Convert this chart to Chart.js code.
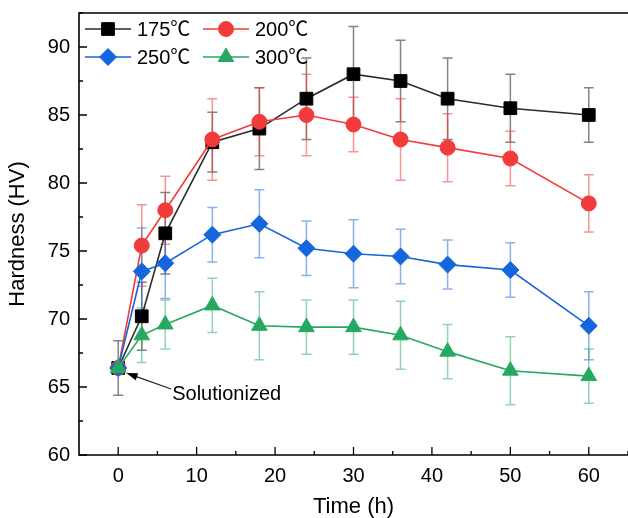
<!DOCTYPE html>
<html>
<head>
<meta charset="utf-8">
<script src="https://cdn.jsdelivr.net/npm/chart.js@4.4.1/dist/chart.umd.min.js"></script>
<style>
html, body { margin: 0; padding: 0; background: #fff; }
#wrap { width: 628px; height: 518px; }
</style>
</head>
<body>
<div id="wrap"><canvas id="c" width="628" height="518"></canvas></div>
<script>
// aging time (h) and hardness (HV) for each temperature
var times = [0, 3, 6, 12, 18, 24, 30, 36, 42, 50, 60];
var hv175 = [66.4, 70.2, 76.3, 83.0, 84.0, 86.2, 88.0, 87.5, 86.2, 85.5, 85.0];
var err175 = [2.0, 2.5, 3.0, 2.2, 3.0, 3.0, 3.5, 3.0, 3.0, 2.5, 2.0];
var hv200 = [66.4, 75.4, 78.0, 83.2, 84.5, 85.0, 84.3, 83.2, 82.6, 81.8, 78.5];
var err200 = [0, 3.0, 2.5, 3.0, 2.5, 3.0, 2.0, 3.0, 2.5, 2.0, 2.1];
var hv250 = [66.4, 73.5, 74.1, 76.2, 77.0, 75.2, 74.8, 74.6, 74.0, 73.6, 69.5];
var err250 = [0, 3.2, 2.6, 2.0, 2.5, 2.0, 2.5, 2.0, 1.8, 2.0, 2.5];
var hv300 = [66.4, 68.8, 69.6, 71.0, 69.5, 69.4, 69.4, 68.8, 67.6, 66.2, 65.8];
var err300 = [0, 2.0, 1.8, 2.0, 2.5, 2.0, 2.0, 2.5, 2.0, 2.5, 2.0];

var seriesNames = ['175\u2103', '200\u2103', '250\u2103', '300\u2103'];
var xTicks = [0, 10, 20, 30, 40, 50, 60];
var xMinor = [5, 15, 25, 35, 45, 55, 65];
var yTicks = [60, 65, 70, 75, 80, 85, 90];
var yMinor = [62.5, 67.5, 72.5, 77.5, 82.5, 87.5, 92.5];

var FONT = '"Liberation Sans", Arial, "Noto Sans CJK SC", sans-serif';
var lineColors = ['#2b2b2b', '#f23b3b', '#1565dc', '#27a862'];
var markColors = ['#000000', '#f23b3b', '#1565dc', '#27a862'];
var errColors = ['rgba(110,110,110,0.85)', 'rgba(242,59,59,0.55)', 'rgba(21,101,220,0.5)', 'rgba(39,168,98,0.5)'];
var styles = ['rect', 'circle', 'rectRot', 'triangle'];
var radii = [9, 7.5, 8.5, 9];
var allVals = [hv175, hv200, hv250, hv300];
var allErrs = [err175, err200, err250, err300];

function pts(vals) {
    return vals.map(function (v, i) { return { x: times[i], y: v }; });
}

function makeSet(i) {
    return {
        label: seriesNames[i],
        data: pts(allVals[i]),
        borderColor: lineColors[i],
        borderWidth: 1.6,
        backgroundColor: markColors[i],
        pointBackgroundColor: markColors[i],
        pointBorderColor: markColors[i],
        pointBorderWidth: 1,
        pointStyle: styles[i],
        pointRadius: radii[i],
        tension: 0,
        order: 3 - i
    };
}

var decor = {
    id: 'decor',
    beforeDatasetsDraw: function (chart) {
        var ctx = chart.ctx, xs = chart.scales.x, ys = chart.scales.y;
        ctx.save();
        ctx.lineWidth = 1.5;
        for (var i = 0; i < allVals.length; i++) {
            ctx.strokeStyle = errColors[i];
            for (var j = 0; j < times.length; j++) {
                var e = allErrs[i][j];
                if (!e) continue;
                var px = xs.getPixelForValue(times[j]);
                var t = ys.getPixelForValue(allVals[i][j] + e);
                var b = ys.getPixelForValue(allVals[i][j] - e);
                ctx.beginPath();
                ctx.moveTo(px, t); ctx.lineTo(px, b);
                ctx.moveTo(px - 5, t); ctx.lineTo(px + 5, t);
                ctx.moveTo(px - 5, b); ctx.lineTo(px + 5, b);
                ctx.stroke();
            }
        }
        ctx.restore();
    },
    afterDraw: function (chart) {
        var ctx = chart.ctx, xs = chart.scales.x, ys = chart.scales.y;
        var a = chart.chartArea;
        ctx.save();
        // frame
        ctx.strokeStyle = '#000';
        ctx.lineWidth = 1.6;
        ctx.beginPath();
        ctx.moveTo(a.right, a.top); ctx.lineTo(a.left, a.top);
        ctx.lineTo(a.left, a.bottom); ctx.lineTo(a.right, a.bottom);
        ctx.stroke();
        // inward ticks
        ctx.lineWidth = 1.3;
        ctx.beginPath();
        xTicks.forEach(function (v) { var p = xs.getPixelForValue(v); ctx.moveTo(p, a.bottom); ctx.lineTo(p, a.bottom - 8); });
        xMinor.forEach(function (v) { var p = xs.getPixelForValue(v); ctx.moveTo(p, a.bottom); ctx.lineTo(p, a.bottom - 4); });
        yTicks.forEach(function (v) { var p = ys.getPixelForValue(v); ctx.moveTo(a.left, p); ctx.lineTo(a.left + 8, p); });
        yMinor.forEach(function (v) { var p = ys.getPixelForValue(v); ctx.moveTo(a.left, p); ctx.lineTo(a.left + 4, p); });
        ctx.stroke();

        // legend
        var cols = [a.left + 6, a.left + 124];
        var rows = [a.top + 16, a.top + 44];
        ctx.font = '20px ' + FONT;
        ctx.textBaseline = 'middle';
        ctx.textAlign = 'left';
        for (var i = 0; i < seriesNames.length; i++) {
            var lx = cols[i % 2], ly = rows[Math.floor(i / 2)];
            ctx.strokeStyle = lineColors[i];
            ctx.lineWidth = 1.6;
            ctx.beginPath();
            ctx.moveTo(lx, ly); ctx.lineTo(lx + 46, ly);
            ctx.stroke();
            ctx.fillStyle = markColors[i];
            ctx.strokeStyle = markColors[i];
            ctx.lineWidth = 1;
            Chart.helpers.drawPoint(ctx, { pointStyle: styles[i], radius: radii[i], rotation: 0, borderWidth: 1 }, lx + 23, ly);
            ctx.fillStyle = '#000';
            ctx.fillText(seriesNames[i], lx + 52, ly + 1);
        }

        // annotation
        var ox = xs.getPixelForValue(0), oy = ys.getPixelForValue(66.4);
        var tipX = ox + 8, tipY = oy + 5, tailX = ox + 53, tailY = oy + 21;
        var ang = Math.atan2(tipY - tailY, tipX - tailX);
        ctx.strokeStyle = '#222';
        ctx.lineWidth = 1.2;
        ctx.beginPath();
        ctx.moveTo(tailX, tailY); ctx.lineTo(tipX + 10 * Math.cos(ang + Math.PI), tipY + 10 * Math.sin(ang + Math.PI));
        ctx.stroke();
        ctx.fillStyle = '#000';
        ctx.beginPath();
        ctx.moveTo(tipX, tipY);
        ctx.lineTo(tipX - 12 * Math.cos(ang - 0.32), tipY - 12 * Math.sin(ang - 0.32));
        ctx.lineTo(tipX - 12 * Math.cos(ang + 0.32), tipY - 12 * Math.sin(ang + 0.32));
        ctx.closePath();
        ctx.fill();
        ctx.font = '20px ' + FONT;
        ctx.textBaseline = 'alphabetic';
        ctx.fillText('Solutionized', ox + 54, oy + 32);
        ctx.restore();
    }
};

new Chart(document.getElementById('c'), {
    type: 'line',
    data: { datasets: [makeSet(0), makeSet(1), makeSet(2), makeSet(3)] },
    options: {
        responsive: false,
        animation: false,
        devicePixelRatio: 1,
        layout: { autoPadding: false, padding: { top: 13, right: 0, left: 0, bottom: 0 } },
        plugins: { legend: { display: false }, tooltip: { enabled: false } },
        scales: {
            x: {
                type: 'linear',
                min: -5,
                max: 65,
                grid: { display: false, drawTicks: false },
                border: { display: false },
                afterBuildTicks: function (s) { s.ticks = xTicks.map(function (v) { return { value: v }; }); },
                afterFit: function (s) { s.height = 63; s.paddingLeft = 0; s.paddingRight = 0; },
                ticks: { color: '#000', padding: 9, maxRotation: 0, font: { family: FONT, size: 20 } },
                title: { display: true, text: 'Time (h)', color: '#000', padding: 0, font: { family: FONT, size: 22, lineHeight: 1 } }
            },
            y: {
                type: 'linear',
                min: 60,
                max: 92.5,
                grid: { display: false, drawTicks: false },
                border: { display: false },
                afterBuildTicks: function (s) { s.ticks = yTicks.map(function (v) { return { value: v }; }); },
                afterFit: function (s) { s.width = 79; s.paddingTop = 0; s.paddingBottom = 0; },
                ticks: { color: '#000', padding: 9, font: { family: FONT, size: 20 } },
                title: { display: true, text: 'Hardness (HV)', color: '#000', padding: { top: 5, bottom: 0 }, font: { family: FONT, size: 22, lineHeight: 1.2 } }
            }
        }
    },
    plugins: [decor]
});
</script>
</body>
</html>
